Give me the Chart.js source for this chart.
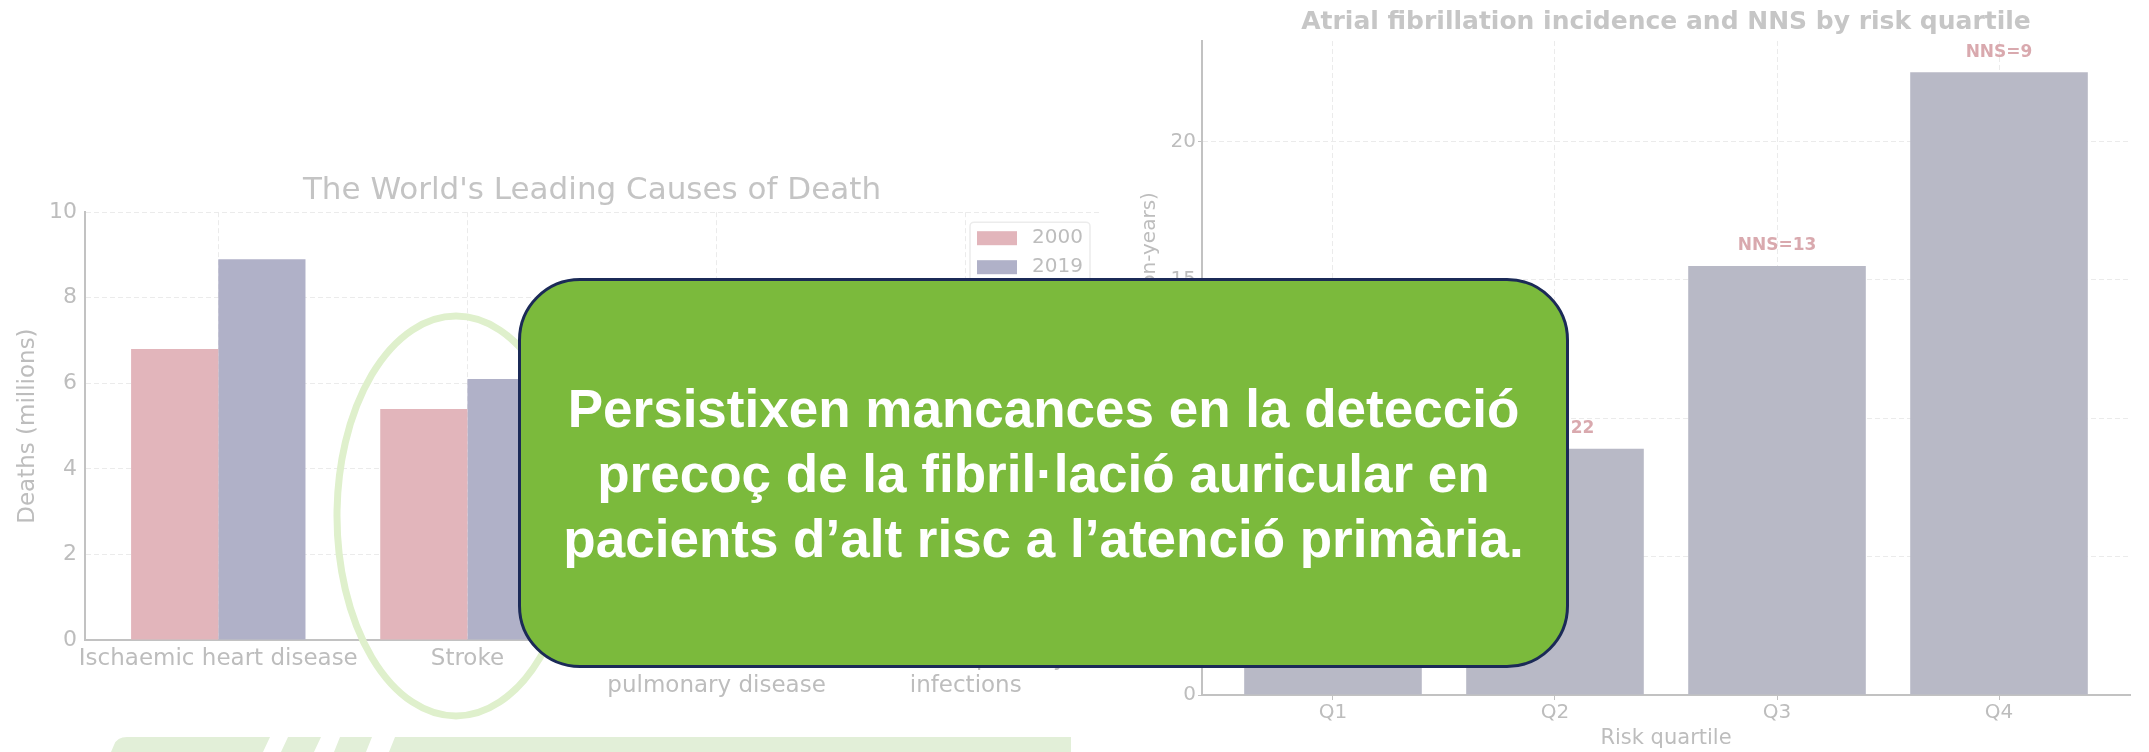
<!DOCTYPE html>
<html>
<head>
<meta charset="utf-8">
<script src="https://cdn.jsdelivr.net/npm/chart.js@4.4.1/dist/chart.umd.min.js"></script>
<style>
  body { margin: 0; width: 2149px; height: 752px; position: relative; overflow: hidden; background: #fff; }
  #left, #right { position: absolute; top: 0; }
  #left { left: 0; }
  #right { left: 1110px; }
  #deco { position: absolute; left: 0; top: 0; }
  .callout {
    position: absolute; left: 518px; top: 278px; width: 1051px; height: 390px;
    box-sizing: border-box; border: 3px solid #1b2a57; border-radius: 62px;
    background: #7bba3c; color: #fff;
    font-family: "Liberation Sans", Arial, sans-serif; font-weight: bold;
    font-size: 53px; line-height: 65px; text-align: center;
    display: flex; align-items: center; justify-content: center;
  }
</style>
</head>
<body>
<canvas id="left" width="1110" height="752"></canvas>
<canvas id="right" width="1039" height="752"></canvas>
<svg id="deco" width="2149" height="752">
  <ellipse cx="456" cy="516" rx="119" ry="200" fill="none" stroke="#dff0cc" stroke-width="7"/>
  <g fill="#e2efd8">
    <path d="M111,752 L114,745 Q117,737 127,737 L270,737 L263,752 Z"/>
    <path d="M288,737 L321,737 L314,752 L281,752 Z"/>
    <path d="M340,737 L372,737 L366,752 L334,752 Z"/>
    <path d="M395,737 L1071,737 L1071,752 L389,752 Z"/>
  </g>
</svg>
<div class="callout"><div>Persistixen mancances en la detecció<br>precoç de la fibril·lació auricular en<br>pacients d’alt risc a l’atenció primària.</div></div>

<script>
// left chart: leading causes of death
const causes = [['Ischaemic heart disease'], ['Stroke'], ['Chronic obstructive', 'pulmonary disease'], ['Lower respiratory', 'infections']];
const deaths2000 = [6.8, 5.4, 3.1, 3.0];
const deaths2019 = [8.9, 6.1, 3.2, 2.6];
const deathTicks = [0, 2, 4, 6, 8, 10];

// right chart: AF incidence by risk quartile
const quartiles = ['Q1', 'Q2', 'Q3', 'Q4'];
const afIncidence = [4.5, 8.9, 15.5, 22.5];
const nns = [44, 22, 13, 9];
const afTicks = [0, 5, 10, 15, 20];

Chart.defaults.font.family = '"DejaVu Sans", sans-serif';
Chart.defaults.color = '#bdbdbd';
Chart.defaults.animation = false;

const gridColor = '#ebebeb';
const axisColor = '#c2c2c2';

const cornerLegend = {
    id: 'cornerLegend',
    afterDraw(chart) {
        const ctx = chart.ctx;
        const area = chart.chartArea;
        const x = area.right - 129, y = area.top + 10;
        ctx.save();
        ctx.fillStyle = 'rgba(255,255,255,0.8)';
        ctx.strokeStyle = '#ececec';
        ctx.lineWidth = 1.5;
        ctx.beginPath();
        ctx.roundRect(x, y, 120, 70, 4);
        ctx.fill();
        ctx.stroke();
        ctx.font = '20px "DejaVu Sans"';
        ctx.textBaseline = 'middle';
        chart.data.datasets.forEach((ds, i) => {
            const cy = y + 16 + i * 29;
            ctx.fillStyle = ds.backgroundColor;
            ctx.fillRect(x + 7, cy - 7, 40, 14);
            ctx.fillStyle = '#bdbdbd';
            ctx.fillText(ds.label, x + 62, cy);
        });
        ctx.restore();
    }
};

const nnsLabels = {
    id: 'nnsLabels',
    afterDatasetsDraw(chart) {
        const ctx = chart.ctx;
        const meta = chart.getDatasetMeta(0);
        ctx.save();
        ctx.font = 'bold 17px "DejaVu Sans"';
        ctx.fillStyle = '#d9a9ae';
        ctx.textAlign = 'center';
        ctx.textBaseline = 'middle';
        meta.data.forEach((bar, i) => {
            ctx.fillText('NNS=' + nns[i], bar.x, bar.y - 20);
        });
        ctx.restore();
    }
};

new Chart(document.getElementById('left'), {
    type: 'bar',
    data: {
        datasets: [
            { label: '2000', data: deaths2000.map((v, i) => ({ x: i, y: v })), backgroundColor: '#e2b5bb' },
            { label: '2019', data: deaths2019.map((v, i) => ({ x: i, y: v })), backgroundColor: '#b0b1c8' }
        ]
    },
    options: {
        responsive: false,
        devicePixelRatio: 1,
        categoryPercentage: 0.7,
        barPercentage: 1.0,
        layout: { padding: { left: 0, right: 11, top: 0, bottom: 0 } },
        plugins: {
            legend: { display: false },
            tooltip: { enabled: false },
            title: {
                display: true,
                fullSize: false,
                text: "The World's Leading Causes of Death",
                color: '#c4c4c4',
                font: { size: 31, weight: 'normal' },
                padding: { top: 172, bottom: 3 }
            }
        },
        scales: {
            x: {
                type: 'linear', min: -0.535, max: 3.535, z: 1, offset: false,
                afterBuildTicks: s => { s.ticks = causes.map((c, i) => ({ value: i })); },
                afterFit: s => { s.height = 112; },
                ticks: { callback: v => causes[v], font: { size: 23 }, padding: 5, maxRotation: 0, autoSkip: false },
                grid: { color: gridColor, drawTicks: false, offset: false },
                border: { color: axisColor, width: 2, dash: [5, 3] }
            },
            y: {
                min: 0, max: 10, z: 1,
                afterBuildTicks: s => { s.ticks = deathTicks.map(v => ({ value: v })); },
                afterFit: s => { s.width = 85; },
                ticks: { font: { size: 22 }, padding: 8 },
                grid: { color: gridColor, drawTicks: false },
                border: { color: axisColor, width: 2, dash: [5, 3] },
                title: { display: true, text: 'Deaths (millions)', font: { size: 23 }, color: '#bdbdbd', padding: { top: 14, bottom: 0 } }
            }
        }
    },
    plugins: [cornerLegend]
});

new Chart(document.getElementById('right'), {
    type: 'bar',
    data: {
        datasets: [
            { label: 'AF incidence', data: afIncidence.map((v, i) => ({ x: i, y: v })), backgroundColor: '#b8b9c6' }
        ]
    },
    options: {
        responsive: false,
        devicePixelRatio: 1,
        categoryPercentage: 0.8,
        barPercentage: 1.0,
        layout: { padding: { left: 0, right: 19, top: 0, bottom: 0 } },
        plugins: {
            legend: { display: false },
            tooltip: { enabled: false },
            title: {
                display: true,
                fullSize: false,
                text: 'Atrial fibrillation incidence and NNS by risk quartile',
                color: '#c6c6c6',
                font: { size: 25, weight: 'bold' },
                padding: { top: 7, bottom: 4 }
            }
        },
        scales: {
            x: {
                type: 'linear', min: -0.59, max: 3.59, z: 1, offset: false,
                afterBuildTicks: s => { s.ticks = quartiles.map((q, i) => ({ value: i })); },
                afterFit: s => { s.height = 57; },
                ticks: { callback: v => quartiles[v], font: { size: 20 }, padding: 1 },
                grid: { color: gridColor, tickLength: 5, tickColor: axisColor, offset: false },
                border: { color: axisColor, width: 2, dash: [5, 3] },
                title: { display: true, text: 'Risk quartile', font: { size: 21 }, color: '#bdbdbd', padding: { top: 0, bottom: 1 } }
            },
            y: {
                min: 0, max: 23.625, z: 1,
                afterBuildTicks: s => { s.ticks = afTicks.map(v => ({ value: v })); },
                afterFit: s => { s.width = 92; },
                ticks: { font: { size: 20 }, padding: 2 },
                grid: { color: gridColor, tickLength: 4, tickColor: axisColor },
                border: { color: axisColor, width: 2, dash: [5, 3] },
                title: { display: true, text: 'Incidence (per 1,000 person-years)', font: { size: 20 }, color: '#bdbdbd', padding: { top: 28, bottom: 0 } }
            }
        }
    },
    plugins: [nnsLabels]
});
</script>
</body>
</html>
